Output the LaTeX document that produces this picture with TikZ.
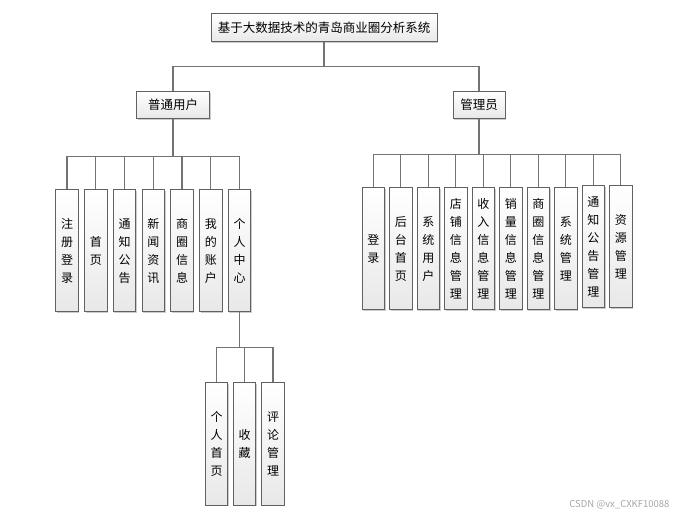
\documentclass[tikz,border=0pt]{standalone}
\usepackage{fontspec}
\setmainfont{Noto Sans CJK SC}
\usetikzlibrary{shadows}

\begin{document}
\begin{tikzpicture}[x=1pt, y=-1pt]
    % Styles
    \tikzstyle{block} = [rectangle, draw=black!62, line width=1pt, top color=white, bottom color=black!9,
        drop shadow={shadow xshift=1.2pt, shadow yshift=-1.2pt, fill=black!40, opacity=0.5},
        inner sep=2pt, font=\fontsize{12.5}{15}\selectfont]
    \tikzstyle{leaf} = [block, minimum width=22.5pt, minimum height=122pt, text width=14pt,
        align=center, font=\fontsize{12}{18}\selectfont]
    \tikzstyle{link} = [draw=black!55, line width=1.2pt]

    \useasboundingbox (0,0) rectangle (683,518);

    % Nodes
    \node [block, minimum width=226pt, minimum height=28pt] (root) at (324,28) {基于大数据技术的青岛商业圈分析系统};
    \node [block, minimum width=73pt, minimum height=27pt] (user) at (173,105) {普通用户};
    \node [block, minimum width=52pt, minimum height=27pt] (admin) at (479,105) {管理员};

    \node [leaf] (u1) at (67,251) {注\\册\\登\\录};
    \node [leaf] (u2) at (95.75,251) {首\\页};
    \node [leaf] (u3) at (124.5,251) {通\\知\\公\\告};
    \node [leaf] (u4) at (153.25,251) {新\\闻\\资\\讯};
    \node [leaf] (u5) at (182,251) {商\\圈\\信\\息};
    \node [leaf] (u6) at (210.75,251) {我\\的\\账\\户};
    \node [leaf] (u7) at (239.5,251) {个\\人\\中\\心};

    \node [leaf] (p1) at (216.5,444) {个\\人\\首\\页};
    \node [leaf] (p2) at (244.5,444) {收\\藏};
    \node [leaf] (p3) at (273,444) {评\\论\\管\\理};

    \node [leaf] (a1) at (373.3,249) {登\\录};
    \node [leaf] (a2) at (400.8,249) {后\\台\\首\\页};
    \node [leaf] (a3) at (428.3,249) {系\\统\\用\\户};
    \node [leaf] (a4) at (455.8,249) {店\\铺\\信\\息\\管\\理};
    \node [leaf] (a5) at (483.3,249) {收\\入\\信\\息\\管\\理};
    \node [leaf] (a6) at (510.8,249) {销\\量\\信\\息\\管\\理};
    \node [leaf] (a7) at (538.3,249) {商\\圈\\信\\息\\管\\理};
    \node [leaf] (a8) at (565.8,249) {系\\统\\管\\理};
    \node [leaf] (a9) at (593.3,247) {通\\知\\公\\告\\管\\理};
    \node [leaf] (a10) at (620.8,247) {资\\源\\管\\理};

    \node [anchor=east, text=black!35, font=\fontsize{9.5}{11}\selectfont] (watermark) at (673,505) {CSDN @vx\_CXKF10088};

    % Lines
    \draw [link] (root.south) -- ++(0,24) -| (user.north);
    \draw [link] (root.south) -- ++(0,24) -| (admin.north);

    \draw [link] (user.south) -- ++(0,37.5) -| (u1.north);
    \draw [link] (user.south) -- ++(0,37.5) -| (u2.north);
    \draw [link] (user.south) -- ++(0,37.5) -| (u3.north);
    \draw [link] (user.south) -- ++(0,37.5) -| (u4.north);
    \draw [link] (user.south) -- ++(0,37.5) -| (u5.north);
    \draw [link] (user.south) -- ++(0,37.5) -| (u6.north);
    \draw [link] (user.south) -- ++(0,37.5) -| (u7.north);

    \draw [link] (u7.south) -- ++(0,35) -| (p1.north);
    \draw [link] (u7.south) -- ++(0,35) -| (p2.north);
    \draw [link] (u7.south) -- ++(0,35) -| (p3.north);

    \draw [link] (admin.south) -- ++(0,35.5) -| (a1.north);
    \draw [link] (admin.south) -- ++(0,35.5) -| (a2.north);
    \draw [link] (admin.south) -- ++(0,35.5) -| (a3.north);
    \draw [link] (admin.south) -- ++(0,35.5) -| (a4.north);
    \draw [link] (admin.south) -- ++(0,35.5) -| (a5.north);
    \draw [link] (admin.south) -- ++(0,35.5) -| (a6.north);
    \draw [link] (admin.south) -- ++(0,35.5) -| (a7.north);
    \draw [link] (admin.south) -- ++(0,35.5) -| (a8.north);
    \draw [link] (admin.south) -- ++(0,35.5) -| (a9.north);
    \draw [link] (admin.south) -- ++(0,35.5) -| (a10.north);
\end{tikzpicture}
\end{document}
